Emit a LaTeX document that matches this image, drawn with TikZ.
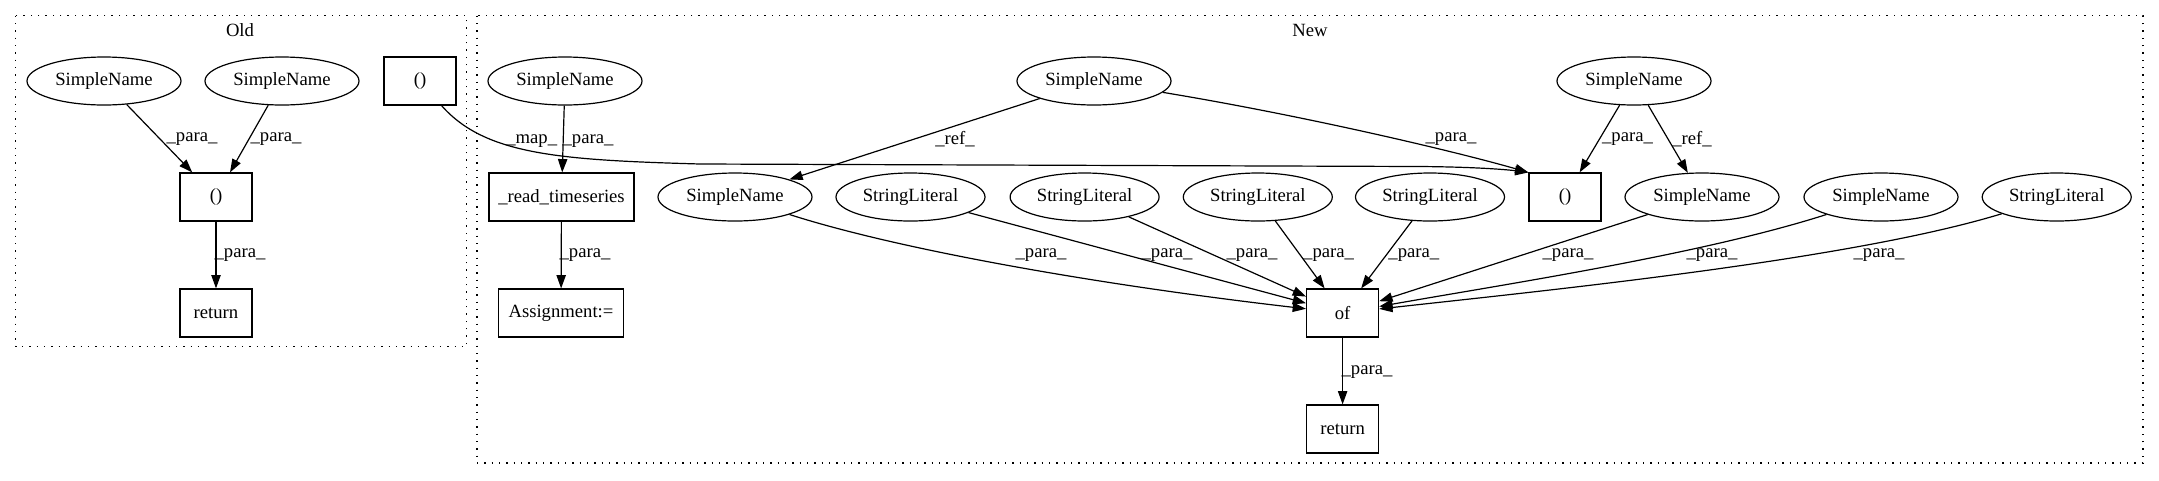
\documentclass[tikz,border=0pt]{standalone}
\usepackage{fontspec}
\setmainfont{Liberation Serif}
\usetikzlibrary{arrows.meta,shapes.geometric}
\begin{document}
\begin{tikzpicture}[x=0.75pt,y=-0.75pt,
  every node/.style={font=\fontsize{14}{16}\selectfont},
  ell/.style={draw,ellipse,line width=0.9pt,inner sep=0pt,minimum width=115.5pt,minimum height=36pt},
  sl/.style={ell,minimum width=111.75pt},
  box/.style={draw,rectangle,line width=0.9pt,inner sep=0pt,minimum width=54pt,minimum height=36pt},
  edge/.style={draw,line width=0.9pt,-{Triangle[length=10pt,width=7pt]}},
  lab/.style={inner sep=0pt},
  cluster/.style={draw,line width=0.9pt,dash pattern=on 1pt off 4.5pt}]
\useasboundingbox (0,0) rectangle (2159,480);

% clusters
\draw[cluster] (15.5,15.7) rectangle (466.5,346.7);
\node[lab] (oldlab) at (240,30) {Old};
\draw[cluster] (477,15.7) rectangle (2143,463);
\node[lab] (newlab) at (1310,30) {New};

% Old nodes
\node[ell] (oA) at (104,81) {SimpleName};
\node[ell] (oB) at (282,81) {SimpleName};
\node[box] (oP) at (216,197) {()};
\node[box] (oR) at (216,313) {return};
\node[box] (oM) at (420,81) {()};

% New nodes
\node[ell] (nC) at (565,81) {SimpleName};
\node[box,minimum width=108.75pt] (nRT) at (561.5,197) {\_read\_timeseries};
\node[box,minimum width=93.75pt] (nAs) at (561,313) {Assignment:=};
\node[ell] (nD) at (1094,81) {SimpleName};
\node[ell] (nE) at (735,197) {SimpleName};
\node[sl] (s1) at (910.5,197) {StringLiteral};
\node[sl] (s2) at (1084.6,197) {StringLiteral};
\node[sl] (s3) at (1257.8,197) {StringLiteral};
\node[sl] (s4) at (1430,197) {StringLiteral};
\node[box] (nP) at (1565,197) {()};
\node[ell] (nF) at (1634,81) {SimpleName};
\node[ell] (nG) at (1702,197) {SimpleName};
\node[ell] (nH) at (1881,197) {SimpleName};
\node[sl] (s5) at (2056.7,197) {StringLiteral};
\node[box] (of) at (1342.6,313) {of};
\node[box] (ret) at (1342.6,429) {return};

% Old edges
\draw[edge] (oA) -- (oP);
\node[lab] at (192,139) {\_para\_};
\draw[edge] (oB) -- (oP);
\node[lab] at (276,139) {\_para\_};
\draw[edge] (oP) -- (oR);
\node[lab] at (240,255) {\_para\_};

% map edge
\draw[edge] (oM) .. controls (485,155) and (560,160) .. (700,164) -- (1420,166.5) .. controls (1480,167) and (1510,170) .. (nP.north west);
\node[lab] at (531.7,140.7) {\_map\_};

% New edges
\draw[edge] (nC) -- (nRT);
\node[lab] at (588,140.7) {\_para\_};
\draw[edge] (nRT) -- (nAs);
\node[lab] at (585,255) {\_para\_};
\draw[edge] (nD) -- (nE);
\node[lab] at (955,139) {\_ref\_};
\draw[edge] (nD) .. controls (1300,115) and (1450,150) .. (nP.north west);
\node[lab] at (1451,139) {\_para\_};
\draw[edge] (nF) -- (nP);
\node[lab] at (1627.5,139) {\_para\_};
\draw[edge] (nF) -- (nG);
\node[lab] at (1692,139) {\_ref\_};

\draw[edge] (nE) .. controls (900,250) and (1100,285) .. (of);
\node[lab] at (1041,255) {\_para\_};
\draw[edge] (s1) -- (of);
\node[lab] at (1167,255) {\_para\_};
\draw[edge] (s2) -- (of);
\node[lab] at (1252,255) {\_para\_};
\draw[edge] (s3) -- (of);
\node[lab] at (1328.6,255) {\_para\_};
\draw[edge] (s4) -- (of);
\node[lab] at (1413.8,255) {\_para\_};
\draw[edge] (nG) -- (of);
\node[lab] at (1568,255) {\_para\_};
\draw[edge] (nH) .. controls (1700,255) and (1500,285) .. (of);
\node[lab] at (1712,255) {\_para\_};
\draw[edge] (s5) .. controls (1850,260) and (1550,290) .. (of);
\node[lab] at (1879,255) {\_para\_};
\draw[edge] (of) -- (ret);
\node[lab] at (1367,372) {\_para\_};
\end{tikzpicture}
\end{document}
